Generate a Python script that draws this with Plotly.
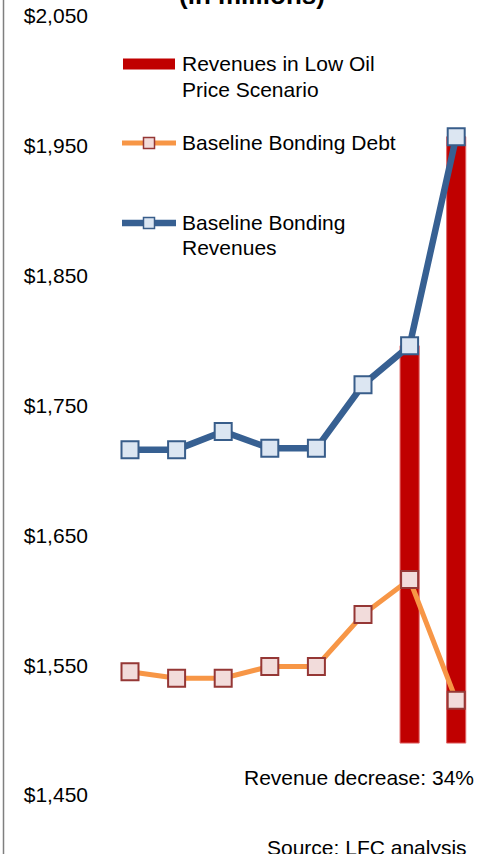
import plotly.graph_objects as go

# ---- data ----
positions = [0, 1, 2, 3, 4, 5, 6, 7]
baseline_revenues = [1716, 1716, 1730, 1717, 1717, 1766, 1796, 1957]
baseline_debt = [1545, 1540, 1540, 1549, 1549, 1589, 1616, 1523]
low_oil_positions = [6, 7]
low_oil_top = [1796, 1957]
low_oil_base = [1490, 1490]
tick_values = [1450, 1550, 1650, 1750, 1850, 1950, 2050]
tick_labels = ["$1,450", "$1,550", "$1,650", "$1,750", "$1,850", "$1,950", "$2,050"]
series_names = ["Revenues in Low Oil<br>Price Scenario", "Baseline Bonding Debt",
                "Baseline Bonding<br>Revenues"]

W, H = 497, 854
L, R, T, B = 92, 0, 0, 0
FONT = "Liberation Sans, Arial, sans-serif"

RED = "#C00000"
ORANGE = "#F79646"
ORANGE_MK = "#F2DCDB"
ORANGE_MK_LINE = "#953735"
BLUE = "#376092"
BLUE_MK = "#DCE6F2"
BLUE_MK_LINE = "#385D8A"

fig = go.Figure()
fig.add_trace(go.Bar(
    x=low_oil_positions,
    y=[t - b for t, b in zip(low_oil_top, low_oil_base)],
    base=low_oil_base,
    width=0.41,
    marker=dict(color=RED, line=dict(color="#E06666", width=1)),
    name=series_names[0], showlegend=False,
))
fig.add_trace(go.Scatter(
    x=positions, y=baseline_debt, mode="lines+markers",
    line=dict(color=ORANGE, width=5),
    marker=dict(symbol="square", size=17, color=ORANGE_MK,
                line=dict(color=ORANGE_MK_LINE, width=2)),
    name=series_names[1], showlegend=False,
))
fig.add_trace(go.Scatter(
    x=positions, y=baseline_revenues, mode="lines+markers",
    line=dict(color=BLUE, width=6.5),
    marker=dict(symbol="square", size=17, color=BLUE_MK,
                line=dict(color=BLUE_MK_LINE, width=2)),
    name=series_names[2], showlegend=False,
))

pw = W - L - R
ph = H - T - B


def px(x):
    return (x - L) / pw


def py(y):
    return 1 - (y - T) / ph


shapes = []
annotations = []

# left frame line
shapes.append(dict(type="line", xref="paper", yref="paper",
                   x0=px(3.5), x1=px(3.5), y0=py(0), y1=py(854),
                   line=dict(color="#7F7F7F", width=1.5)))

# manual legend
shapes.append(dict(type="rect", xref="paper", yref="paper",
                   x0=px(123), x1=px(175), y0=py(69.5), y1=py(58.5),
                   fillcolor=RED, line=dict(width=0)))
shapes.append(dict(type="line", xref="paper", yref="paper",
                   x0=px(122), x1=px(176), y0=py(143), y1=py(143),
                   line=dict(color=ORANGE, width=5)))
shapes.append(dict(type="rect", xref="paper", yref="paper",
                   x0=px(143.5), x1=px(154.5), y0=py(148.5), y1=py(137.5),
                   fillcolor=ORANGE_MK, line=dict(color=ORANGE_MK_LINE, width=1.5)))
shapes.append(dict(type="line", xref="paper", yref="paper",
                   x0=px(122), x1=px(176), y0=py(223), y1=py(223),
                   line=dict(color=BLUE, width=6.5)))
shapes.append(dict(type="rect", xref="paper", yref="paper",
                   x0=px(143.5), x1=px(154.5), y0=py(228.5), y1=py(217.5),
                   fillcolor=BLUE_MK, line=dict(color=BLUE_MK_LINE, width=1.5)))

legend_line_y = [[64, 89], [143], [223, 247]]
for name, ys in zip(series_names, legend_line_y):
    for part, yc in zip(name.split("<br>"), ys):
        annotations.append(dict(text=part, xref="paper", yref="paper",
                                x=px(180), y=py(yc), xanchor="left", yanchor="middle",
                                align="left", showarrow=False,
                                font=dict(family=FONT, size=21, color="black")))

# title (cut off at top)
annotations.append(dict(text="<b>(in millions)</b>", xref="paper", yref="paper",
                        x=px(252), y=py(-5), xanchor="center", yanchor="middle",
                        showarrow=False,
                        font=dict(family=FONT, size=26, color="black")))

annotations.append(dict(text="Revenue decrease: 34%", xref="paper", yref="paper",
                        x=px(476), y=py(777), xanchor="right", yanchor="middle",
                        showarrow=False,
                        font=dict(family=FONT, size=21, color="black")))
annotations.append(dict(text="Source: LFC analysis", xref="paper", yref="paper",
                        x=px(469), y=py(847), xanchor="right", yanchor="middle",
                        showarrow=False,
                        font=dict(family=FONT, size=21, color="black")))

# axis ranges mapped from pixels
x_per_px = 1 / 46.6
x0 = 0 - (130 - L) * x_per_px
x1 = 0 + (W - R - 130) * x_per_px
u_per_px = 600 / (795 - 16)
y_top = 2050 + (16 - T) * u_per_px
y_bot = 1450 - (H - B - 795) * u_per_px

fig.update_layout(
    width=W, height=H,
    margin=dict(l=L, r=R, t=T, b=B, pad=0),
    paper_bgcolor="white", plot_bgcolor="white",
    showlegend=False, hovermode=False,
    shapes=shapes, annotations=annotations,
    font=dict(family=FONT, size=21, color="black"),
    xaxis=dict(range=[x0, x1], visible=False, fixedrange=True),
    yaxis=dict(range=[y_bot, y_top], tickvals=tick_values, ticktext=tick_labels,
               showgrid=False, zeroline=False, showline=False, ticks="",
               ticklabelstandoff=3, fixedrange=True,
               tickfont=dict(family=FONT, size=21, color="black")),
)

fig.write_html("out.html", config={"displayModeBar": False},
               post_script="document.body.style.margin='0';document.body.style.overflow='hidden';")
